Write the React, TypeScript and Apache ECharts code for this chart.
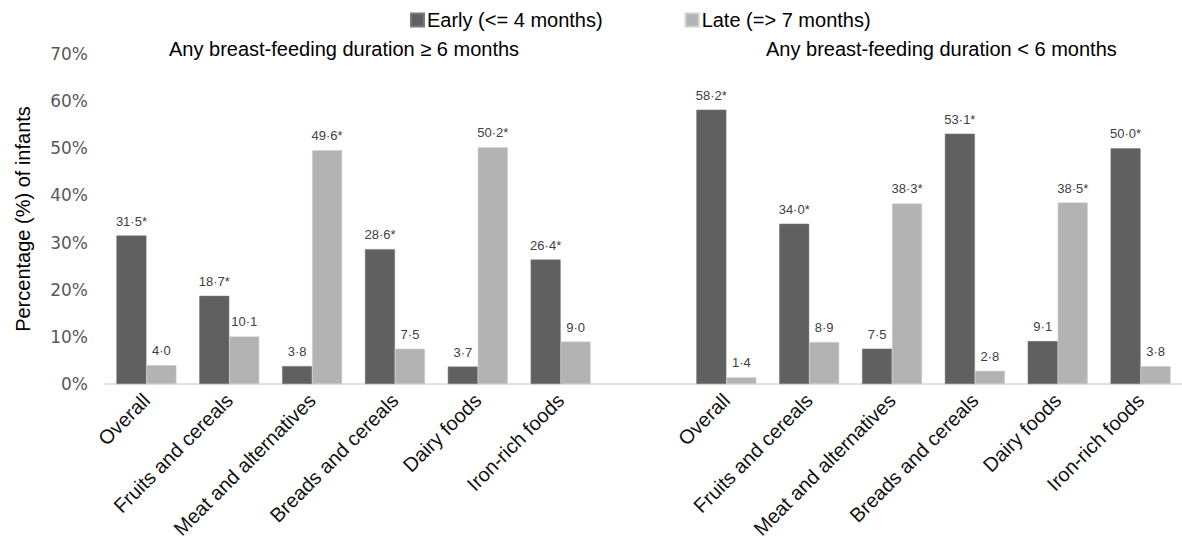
import React, { useEffect, useRef } from "react";
import * as echarts from "echarts";

const categories = [
  "Overall",
  "Fruits and cereals",
  "Meat and alternatives",
  "Breads and cereals",
  "Dairy foods",
  "Iron-rich foods",
];
const yTicks = [0, 10, 20, 30, 40, 50, 60, 70];

// Any breast-feeding duration >= 6 months
const earlyLong = [31.5, 18.7, 3.8, 28.6, 3.7, 26.4];
const lateLong = [4.0, 10.1, 49.6, 7.5, 50.2, 9.0];
const earlyLongSig = [true, true, false, true, false, true];
const lateLongSig = [false, false, true, false, true, false];

// Any breast-feeding duration < 6 months
const earlyShort = [58.2, 34.0, 7.5, 53.1, 9.1, 50.0];
const lateShort = [1.4, 8.9, 38.3, 2.8, 38.5, 3.8];
const earlyShortSig = [true, true, false, true, false, true];
const lateShortSig = [false, false, true, false, true, false];

const seriesNames = ["Early (<= 4 months)", "Late (=> 7 months)"];
const titles = ["Any breast-feeding duration \u2265 6 months", "Any breast-feeding duration < 6 months"];

const FONT = "'Liberation Sans', Arial, sans-serif";

export default function App() {
  const ref = useRef<HTMLDivElement>(null);

  useEffect(() => {
    document.body.style.margin = "0";
    if (!ref.current) return;
    const chart = echarts.init(ref.current, null, { renderer: "svg" });

    const xCats = [...categories, "", ...categories];
    const earlyData = [...earlyLong, "-", ...earlyShort];
    const lateData = [...lateLong, "-", ...lateShort];
    const earlySig = [...earlyLongSig, false, ...earlyShortSig];
    const lateSig = [...lateLongSig, false, ...lateShortSig];

    const fmt = (sig: boolean[]) => (p: any) => {
      const v = p.value;
      if (v === "-" || v == null) return "";
      return Number(v).toFixed(1).replace(".", "\u00b7") + (sig[p.dataIndex] ? "*" : "");
    };

    const labelStyle = (sig: boolean[]) => ({
      show: true,
      position: "top",
      distance: 8,
      fontFamily: FONT,
      fontSize: 13,
      color: "#404040",
      formatter: fmt(sig),
    });

    chart.setOption({
      animation: false,
      backgroundColor: "#ffffff",
      title: [
        {
          text: titles[0],
          left: 164,
          top: 34,
          textStyle: { fontFamily: FONT, fontSize: 20, fontWeight: "normal", color: "#000" },
        },
        {
          text: titles[1],
          left: 761,
          top: 34,
          textStyle: { fontFamily: FONT, fontSize: 20, fontWeight: "normal", color: "#000" },
        },
      ],
      legend: {
        data: seriesNames,
        left: 405,
        top: 5,
        icon: "rect",
        itemWidth: 13,
        itemHeight: 13,
        itemGap: 82,
        textStyle: { fontFamily: FONT, fontSize: 20, color: "#000", padding: [0, 0, 0, -2] },
      },
      grid: { left: 105, right: -7, top: 54, bottom: 159, containLabel: false },
      xAxis: {
        type: "category",
        data: xCats,
        axisLine: { show: true, lineStyle: { color: "#d9d9d9", width: 1.5 } },
        axisTick: { show: false },
        axisLabel: {
          interval: 0,
          rotate: 45,
          margin: 13,
          fontFamily: FONT,
          fontSize: 20,
          color: "#111111",
        },
      },
      yAxis: {
        type: "value",
        min: yTicks[0],
        max: yTicks[yTicks.length - 1],
        interval: 10,
        name: "Percentage (%) of infants",
        nameLocation: "middle",
        nameGap: 72,
        nameTextStyle: { fontFamily: FONT, fontSize: 20, color: "#000" },
        axisLine: { show: false },
        axisTick: { show: false },
        splitLine: { show: false },
        axisLabel: {
          margin: 17,
          fontFamily: "'DejaVu Sans', Verdana, sans-serif",
          fontSize: 17,
          color: "#595959",
          formatter: "{value}%",
        },
      },
      series: [
        {
          name: seriesNames[0],
          type: "bar",
          data: earlyData,
          barWidth: 30,
          barGap: "0%",
          itemStyle: { color: "#606060", borderColor: "#7a7a7a", borderWidth: 0.5 },
          label: labelStyle(earlySig),
        },
        {
          name: seriesNames[1],
          type: "bar",
          data: lateData,
          barWidth: 30,
          barGap: "0%",
          itemStyle: { color: "#b3b3b3", borderColor: "#d0d0d0", borderWidth: 0.5 },
          label: labelStyle(lateSig),
        },
      ],
    });

    return () => chart.dispose();
  }, []);

  return <div ref={ref} style={{ width: 1182, height: 543 }} />;
}
